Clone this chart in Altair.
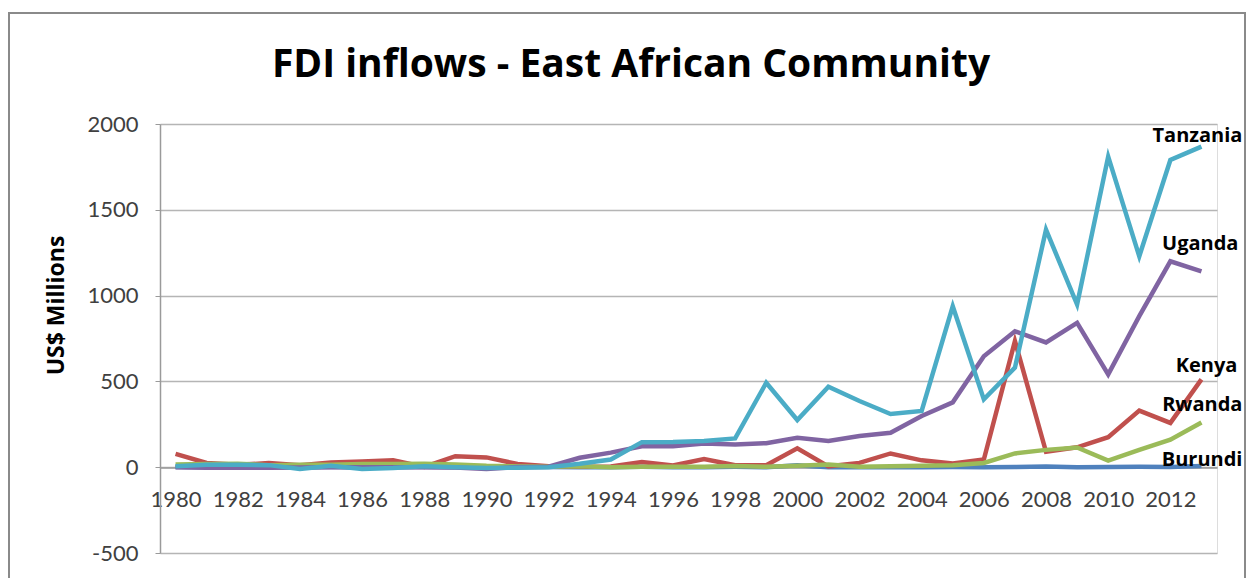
import altair as alt
import pandas as pd

years = list(range(1980, 2014))
countries = ["Burundi", "Kenya", "Rwanda", "Uganda", "Tanzania"]
colors = ["#4F81BD", "#C0504D", "#9BBB59", "#8064A2", "#4BACC6"]
title_text = "FDI inflows - East African Community"

burundi = [1, 0, 1, 0, 0, 1, -1, 1, 1, 0, 1, 1, 1, 0, 0, 2, 0, 0, 2, 0,
           12, 0, 0, 0, 0, 1, 0, 1, 4, 0, 1, 3, 1, 7]
kenya = [78, 25, 14, 24, 12, 28, 33, 40, 2, 64, 57, 19, 6, 2, 4, 30, 10, 48, 11, 12,
         110, 5, 25, 80, 40, 21, 45, 735, 90, 116, 175, 330, 258, 512]
rwanda = [16, 18, 20, 12, 15, 15, 18, 18, 20, 16, 8, 5, 2, 5, 0, 2, 2, 3, 7, 2,
          8, 15, 3, 5, 8, 12, 25, 80, 101, 115, 38, 101, 160, 260]
uganda = [0, -3, -3, -3, -2, -1, 0, 0, 0, -2, -10, 1, 3, 55, 85, 122, 122, 138, 133, 140,
          172, 153, 182, 201, 298, 378, 647, 792, 727, 841, 541, 880, 1200, 1141]
tanzania = [5, 14, 14, 12, -10, 8, -10, -5, 5, 0, -5, -3, 0, 20, 45, 146, 147, 153, 168, 492,
            275, 469, 386, 310, 328, 938, 395, 580, 1384, 948, 1810, 1229, 1790, 1868]

series = {"Burundi": burundi, "Kenya": kenya, "Rwanda": rwanda,
          "Uganda": uganda, "Tanzania": tanzania}

rows = []
for order, c in enumerate(countries):
    for y, v in zip(years, series[c]):
        rows.append({"Year": y, "Value": v, "Country": c, "order": order})
df = pd.DataFrame(rows)

last = pd.DataFrame([{"Year": years[-1], "Value": series[c][-1], "Country": c} for c in countries])

FONT = "Lato"
BOLD_FONT = "Open Sans"

x_scale = alt.Scale(domain=[1979.5, 2013.5], nice=False, zero=False)
y_scale = alt.Scale(domain=[-500, 2000], nice=False)

lines = alt.Chart(df).mark_line(strokeWidth=4.5, strokeJoin="miter").encode(
    x=alt.X("Year:Q", scale=x_scale,
            axis=alt.Axis(values=list(range(1980, 2013, 2)), labelExpr="'' + datum.value",
                          title=None, grid=False, ticks=False, domain=True,
                          domainColor="#9a9a9a", domainWidth=1.5, offset=-85.5,
                          labelPadding=22, labelFont=FONT, labelFontSize=22,
                          labelColor="#404040", labelOverlap=False, labelFlush=False)),
    y=alt.Y("Value:Q", scale=y_scale,
            axis=alt.Axis(values=[-500, 0, 500, 1000, 1500, 2000], labelExpr="'' + datum.value",
                          title="US$ Millions",
                          titleFont=BOLD_FONT, titleFontSize=23, titleFontWeight="bold",
                          titleColor="#000000", titlePadding=18, titleY=181,
                          labelFont=FONT, labelFontSize=22, labelColor="#404040",
                          labelPadding=17, tickSize=5, tickColor="#9a9a9a",
                          domainColor="#9a9a9a", domainWidth=1.5,
                          gridColor="#b5b5b5", gridWidth=1.5)),
    color=alt.Color("Country:N", scale=alt.Scale(domain=countries, range=colors), legend=None),
    order=alt.Order("order:Q"),
    detail="Country:N",
)

label_offsets = {
    "Tanzania": (41, -11),
    "Uganda": (37, -27),
    "Kenya": (36, -13),
    "Rwanda": (41, -18),
    "Burundi": (41, -6),
}

label_layers = []
for c in countries:
    dx, dy = label_offsets[c]
    label_layers.append(
        alt.Chart(last[last["Country"] == c]).mark_text(
            align="right", baseline="middle", font=BOLD_FONT, fontSize=20,
            fontWeight="bold", color="#000000", dx=dx, dy=dy
        ).encode(x=alt.X("Year:Q", scale=x_scale), y=alt.Y("Value:Q", scale=y_scale), text="Country:N")
    )

border = alt.Chart(last).mark_rect(fill="transparent", stroke="#8a8a8a", strokeWidth=2).encode(
    x=alt.value(-151), x2=alt.value(1085), y=alt.value(-111), y2=alt.value(500)
)

title = alt.Chart(pd.DataFrame({"t": [title_text]})).mark_text(
    align="center", baseline="alphabetic", font=BOLD_FONT, fontSize=39, fontWeight="bold",
    color="#000000"
).encode(text="t:N", x=alt.value(471), y=alt.value(-47))

chart = alt.layer(border, lines, *label_layers, title).properties(
    width=1057, height=429,
    padding={"left": 152, "top": 116, "right": 29, "bottom": 25},
    autosize=alt.AutoSizeParams(type="none"),
).configure_view(stroke=None).configure(background="#ffffff")

chart.save("out.html", embed_options={"renderer": "svg", "actions": False})
